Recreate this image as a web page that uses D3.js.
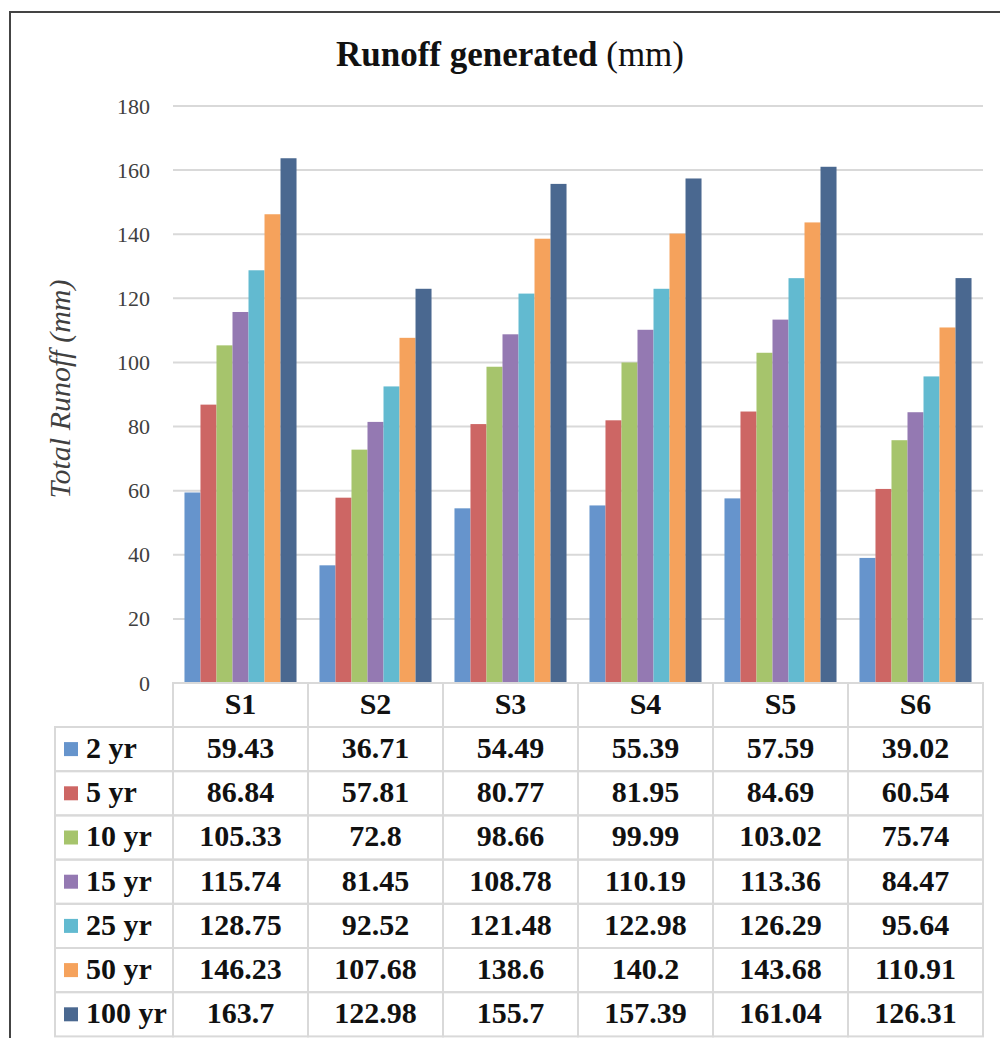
<!DOCTYPE html>
<html>
<head>
<meta charset="utf-8">
<script src="https://cdn.jsdelivr.net/npm/d3@7"></script>
<style>
  body { margin: 0; background: #fff; }
  svg { display: block; }
</style>
</head>
<body>
<svg id="chart" width="1000" height="1038"></svg>
<script>
const sites = ["S1", "S2", "S3", "S4", "S5", "S6"];
const periods = ["2 yr", "5 yr", "10 yr", "15 yr", "25 yr", "50 yr", "100 yr"];
const colors = ["#6694cc", "#cd6664", "#a6c46c", "#9479b2", "#62bad0", "#f5a25c", "#4a6890"];
const yTicks = [0, 20, 40, 60, 80, 100, 120, 140, 160, 180];

// one array per return period, values for S1..S6
const r2   = [59.43, 36.71, 54.49, 55.39, 57.59, 39.02];
const r5   = [86.84, 57.81, 80.77, 81.95, 84.69, 60.54];
const r10  = [105.33, 72.8, 98.66, 99.99, 103.02, 75.74];
const r15  = [115.74, 81.45, 108.78, 110.19, 113.36, 84.47];
const r25  = [128.75, 92.52, 121.48, 122.98, 126.29, 95.64];
const r50  = [146.23, 107.68, 138.6, 140.2, 143.68, 110.91];
const r100 = [163.7, 122.98, 155.7, 157.39, 161.04, 126.31];
const series = [r2, r5, r10, r15, r25, r50, r100];

const svg = d3.select('#chart');
const serif = '"Liberation Serif", "Times New Roman", serif';

// outer frame (top + left edges)
svg.append('path')
  .attr('d', 'M10,1038 V12 H1000')
  .attr('fill', 'none')
  .attr('stroke', '#444')
  .attr('stroke-width', 2);

const plotLeft = 173, plotRight = 983, plotTop = 106, plotBottom = 683;

const x0 = d3.scaleBand()
  .domain(sites)
  .range([plotLeft, plotRight])
  .padding(0);

const gap = x0.bandwidth() * 0.085;
const x1 = d3.scaleBand()
  .domain(periods)
  .range([gap, x0.bandwidth() - gap])
  .padding(0);

const y = d3.scaleLinear()
  .domain([0, 180])
  .range([plotBottom, plotTop]);

// gridlines
svg.append('g')
  .selectAll('line')
  .data(yTicks.filter(d => d > 0))
  .join('line')
    .attr('x1', plotLeft)
    .attr('x2', plotRight)
    .attr('y1', d => y(d))
    .attr('y2', d => y(d))
    .attr('stroke', '#d9d9d9')
    .attr('stroke-width', 2);

// y axis labels
const yAxis = svg.append('g')
  .attr('transform', `translate(${plotLeft - 23}, 0)`)
  .call(d3.axisLeft(y).tickValues(yTicks).tickSize(0).tickPadding(0));
yAxis.select('.domain').remove();
yAxis.selectAll('text')
  .attr('font-family', serif)
  .attr('font-size', 22)
  .attr('fill', '#404040');

// bars
svg.append('g')
  .selectAll('g')
  .data(series)
  .join('g')
    .attr('fill', (d, i) => colors[i])
  .selectAll('rect')
  .data((vals, i) => vals.map((v, j) => ({site: sites[j], period: periods[i], value: v})))
  .join('rect')
    .attr('x', d => x0(d.site) + x1(d.period))
    .attr('y', d => y(d.value))
    .attr('width', x1.bandwidth())
    .attr('height', d => y(0) - y(d.value));

// title
const title = svg.append('text')
  .attr('x', 510)
  .attr('y', 66)
  .attr('text-anchor', 'middle')
  .attr('font-family', serif)
  .attr('font-size', 35)
  .attr('fill', '#111');
title.append('tspan').attr('font-weight', 'bold').text('Runoff generated');
title.append('tspan').text(' (mm)');

// y axis title
svg.append('text')
  .attr('transform', `translate(70, 389) rotate(-90)`)
  .attr('text-anchor', 'middle')
  .attr('font-family', serif)
  .attr('font-style', 'italic')
  .attr('font-size', 30)
  .attr('fill', '#404040')
  .text('Total Runoff (mm)');

// data table
const legendLeft = 55;
const rowH = 44.2;
const headTop = plotBottom, headBottom = 727;
const gridColor = '#d9d9d9';
const table = svg.append('g').attr('font-family', serif).attr('font-weight', 'bold');

// header row cells
table.append('g')
  .selectAll('rect')
  .data(sites)
  .join('rect')
    .attr('x', d => x0(d))
    .attr('y', headTop)
    .attr('width', x0.bandwidth())
    .attr('height', headBottom - headTop)
    .attr('fill', 'none')
    .attr('stroke', gridColor)
    .attr('stroke-width', 2);

table.append('g')
  .selectAll('text')
  .data(sites)
  .join('text')
    .attr('x', d => x0(d) + x0.bandwidth() / 2)
    .attr('y', headBottom - 13)
    .attr('text-anchor', 'middle')
    .attr('font-size', 30)
    .attr('fill', '#111')
    .text(d => d);

// body rows
const rows = table.append('g')
  .selectAll('g')
  .data(series)
  .join('g')
    .attr('transform', (d, i) => `translate(0, ${headBottom + i * rowH})`);

rows.append('rect')
  .attr('x', legendLeft)
  .attr('y', 0)
  .attr('width', plotLeft - legendLeft)
  .attr('height', rowH)
  .attr('fill', 'none')
  .attr('stroke', gridColor)
  .attr('stroke-width', 2);

rows.selectAll('rect.cell')
  .data(d => d.map((v, j) => ({site: sites[j], value: v})))
  .join('rect')
    .attr('class', 'cell')
    .attr('x', d => x0(d.site))
    .attr('y', 0)
    .attr('width', x0.bandwidth())
    .attr('height', rowH)
    .attr('fill', 'none')
    .attr('stroke', gridColor)
    .attr('stroke-width', 2);

rows.selectAll('text.val')
  .data(d => d.map((v, j) => ({site: sites[j], value: v})))
  .join('text')
    .attr('class', 'val')
    .attr('x', d => x0(d.site) + x0.bandwidth() / 2)
    .attr('y', 31)
    .attr('text-anchor', 'middle')
    .attr('font-size', 30)
    .attr('fill', '#111')
    .text(d => d.value);

rows.append('rect')
  .attr('x', 64)
  .attr('y', rowH / 2 - 7)
  .attr('width', 14)
  .attr('height', 14)
  .attr('fill', (d, i) => colors[i]);

rows.append('text')
  .attr('x', 86)
  .attr('y', 31)
  .attr('font-size', 30)
  .attr('fill', '#111')
  .text((d, i) => periods[i]);
</script>
</body>
</html>
